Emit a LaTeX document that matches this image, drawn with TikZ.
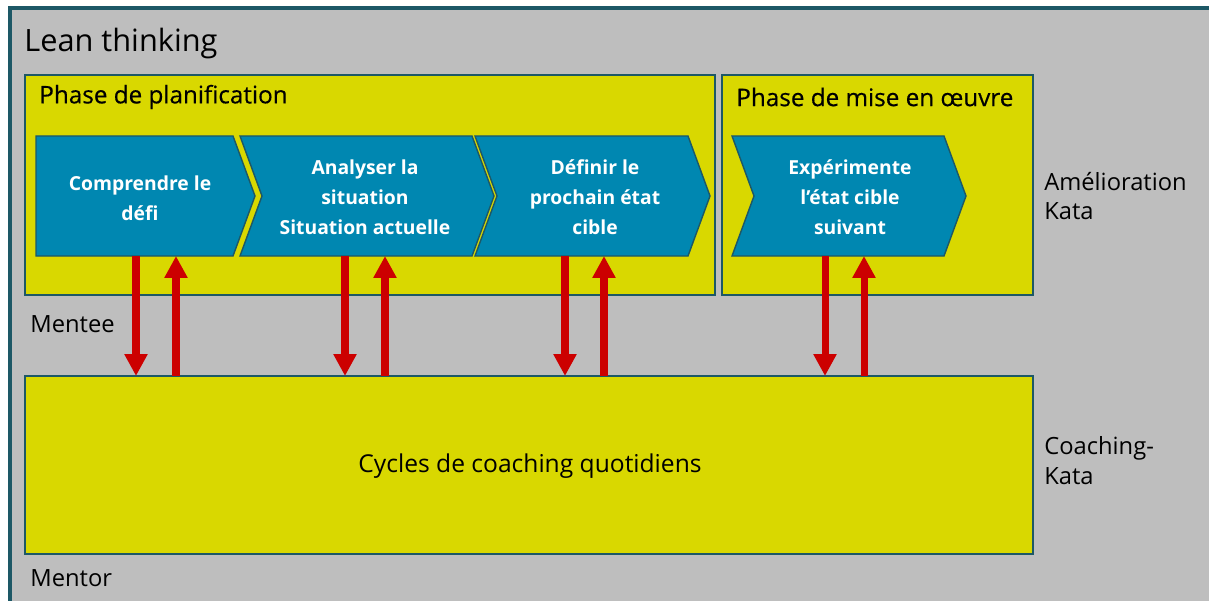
\documentclass[tikz,border=0pt]{standalone}
\usepackage{fontspec}
\setmainfont{Open Sans}
\usetikzlibrary{arrows.meta}

\definecolor{kgray}{HTML}{BEBEBE}
\definecolor{kyellow}{HTML}{D9D800}
\definecolor{kblue}{HTML}{0087B1}
\definecolor{kteal}{HTML}{1D5866}
\definecolor{kred}{HTML}{CC0000}

\begin{document}
\begin{tikzpicture}[x=0.02cm, y=-0.02cm,
    box/.style={draw=kteal, line width=1.2pt, fill=kyellow},
    chev/.style={draw=kteal, line width=0.8pt, fill=kblue},
    chevtext/.style={text=white, align=center, inner sep=0pt,
      font=\bfseries\fontsize{11}{17}\selectfont},
    sidetext/.style={anchor=west, inner sep=0pt, align=left,
      font=\fontsize{13.5}{17}\selectfont},
    phasetext/.style={sidetext, font=\addfontfeature{FakeBold=0.4}\fontsize{13.8}{17}\selectfont},
    flow/.style={draw=kred, line width=4pt, -{Triangle[width=12.5pt, length=12.5pt]}}]
\useasboundingbox (0,0) rectangle (1209,601);
% background
\fill[kgray] (10,8) rectangle (1209,601);
\draw[kteal, line width=1.8pt] (10,601) -- (10,8) -- (1209,8);
\node[anchor=west, inner sep=0pt, font=\fontsize{17.5}{20}\selectfont] (title) at (24,44) {Lean thinking};

% phases
\draw[box] (25,75) rectangle (715,295);
\draw[box] (722,75) rectangle (1033,295);
\draw[box] (25,376) rectangle (1033,554);
\node[phasetext] (plan) at (39,97) {Phase de planification};
\node[phasetext] (exec) at (736,97) {Phase de mise en œuvre};

% chevrons
\draw[chev] (36,136) -- (233,136) -- (255,196) -- (233,256) -- (36,256) -- cycle;
\draw[chev] (240,136) -- (472,136) -- (494,196) -- (472,256) -- (240,256) -- (262,196) -- cycle;
\draw[chev] (475,136) -- (688,136) -- (710,196) -- (688,256) -- (475,256) -- (497,196) -- cycle;
\draw[chev] (732,136) -- (944,136) -- (966,196) -- (944,256) -- (732,256) -- (754,196) -- cycle;
\node[chevtext] (c1) at (140,198) {Comprendre le\\défi};
\node[chevtext] (c2) at (365,197) {Analyser la\\situation\\Situation actuelle};
\node[chevtext] (c3) at (595,197) {Définir le\\prochain état\\cible};
\node[chevtext] (c4) at (850,197) {Expérimente\\l\symbol{39}état cible\\suivant};

% coaching
\node[font=\fontsize{14}{16}\selectfont] (coach) at (530,466) {Cycles de coaching quotidiens};
\coordinate (ctop) at (0,376);
\coordinate (cbot) at (0,256);

% arrows
\foreach \d/\u [count=\i] in {136/176, 345/385, 565/604, 825/864} {
  \coordinate (d\i) at (\d,256);
  \coordinate (u\i) at (\u,376);
  \draw[flow] (d\i) -- (d\i |- ctop);
  \draw[flow] (u\i) -- (u\i |- cbot);
}

% side labels
\node[sidetext] (mentee) at (30,324) {Mentee};
\node[sidetext] (mentor) at (30,578) {Mentor};
\node[sidetext] (ak) at (1044,196) {Amélioration\\Kata};
\node[sidetext] (ck) at (1044,461) {Coaching-\\Kata};
\end{tikzpicture}
\end{document}
